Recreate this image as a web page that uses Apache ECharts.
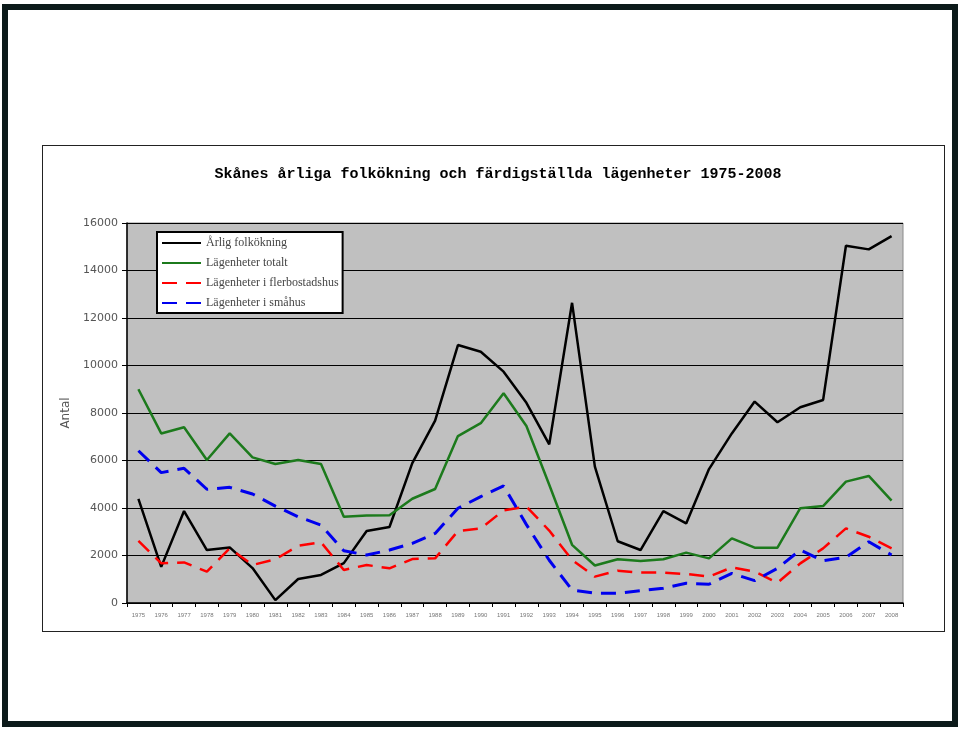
<!DOCTYPE html>
<html>
<head>
<meta charset="utf-8">
<script src="https://cdn.jsdelivr.net/npm/echarts@6/dist/echarts.min.js"></script>
<style>
    html, body { margin: 0; padding: 0; background: #fff; }
    #frame {
        position: absolute; left: 2px; top: 4px; width: 944px; height: 711px;
        border: 6px solid #0c1a1a; background: #fff;
    }
    #box {
        position: absolute; left: 42px; top: 145px; width: 901px; height: 485px;
        border: 1px solid #222; background: #fff;
    }
    #chart { position: absolute; left: 0; top: 0; width: 960px; height: 729px; }
</style>
</head>
<body>
<div id="frame"></div>
<div id="box"></div>
<div id="chart"></div>
<script>
const years = ['1975', '1976', '1977', '1978', '1979', '1980', '1981', '1982', '1983', '1984',
    '1985', '1986', '1987', '1988', '1989', '1990', '1991', '1992', '1993', '1994',
    '1995', '1996', '1997', '1998', '1999', '2000', '2001', '2002', '2003', '2004',
    '2005', '2006', '2007', '2008']

// Årlig folkökning
const folkokning = [4380, 1520, 3870, 2230, 2340, 1470, 120, 1010, 1180, 1680,
    3030, 3200, 5890, 7680, 10860, 10580, 9740, 8430, 6680, 12640,
    5740, 2600, 2230, 3870, 3350, 5640, 7140, 8480, 7610, 8240,
    8550, 15040, 14890, 15450]

// Lägenheter totalt
const totalt = [9000, 7140, 7400, 6020, 7140, 6130, 5850, 6020, 5850, 3630,
    3680, 3690, 4390, 4800, 7030, 7570, 8830, 7450, 4980, 2450,
    1580, 1840, 1770, 1840, 2120, 1880, 2720, 2330, 2330, 3990,
    4080, 5110, 5350, 4310]

// Lägenheter i flerbostadshus
const flerbostadshus = [2620, 1670, 1710, 1320, 2300, 1600, 1840, 2410, 2560, 1390,
    1600, 1460, 1850, 1880, 3030, 3140, 3900, 4060, 3050, 1810,
    1110, 1360, 1280, 1280, 1220, 1110, 1500, 1320, 850, 1670,
    2300, 3140, 2790, 2300]

// Lägenheter i småhus
const smahus = [6410, 5490, 5670, 4790, 4870, 4590, 4080, 3630, 3280, 2200,
    2020, 2230, 2510, 2930, 3990, 4480, 4930, 3300, 1800, 550,
    410, 410, 520, 620, 830, 790, 1250, 940, 1460, 2230,
    1780, 1920, 2580, 2020]

const yTicks = [0, 2000, 4000, 6000, 8000, 10000, 12000, 14000, 16000]

const chart = echarts.init(document.getElementById('chart'))

chart.setOption({
    animation: false,
    title: {
        text: 'Skånes årliga folkökning och färdigställda lägenheter 1975-2008',
        left: 493,
        textAlign: 'center',
        top: 162,
        textStyle: {
            fontFamily: 'Liberation Mono',
            fontWeight: 'bold',
            fontSize: 15,
            color: '#000'
        }
    },
    legend: {
        orient: 'vertical',
        left: 157,
        top: 232,
        backgroundColor: '#fff',
        borderColor: '#000',
        borderWidth: 2,
        padding: [5, 4, 4, 4],
        itemWidth: 39,
        itemHeight: 12,
        itemGap: 8,
        itemStyle: { opacity: 0 },
        textStyle: {
            fontFamily: 'Liberation Serif',
            fontSize: 12,
            color: '#444'
        },
        data: ['Årlig folkökning', 'Lägenheter totalt', 'Lägenheter i flerbostadshus', 'Lägenheter i småhus']
    },
    grid: {
        left: 127,
        top: 223,
        right: 57,
        bottom: 126,
        show: true,
        backgroundColor: '#c0c0c0',
        borderColor: '#8a8a8a',
        borderWidth: 1
    },
    xAxis: {
        type: 'category',
        data: years,
        boundaryGap: true,
        axisLine: { lineStyle: { color: '#000', width: 1.5 } },
        axisTick: { show: true, length: 4, lineStyle: { color: '#000' } },
        axisLabel: {
            fontSize: 6,
            color: '#777',
            margin: 9,
            interval: 0
        }
    },
    yAxis: {
        type: 'value',
        min: yTicks[0],
        max: yTicks[yTicks.length - 1],
        interval: 2000,
        name: 'Antal',
        nameLocation: 'middle',
        nameGap: 52,
        nameTextStyle: {
            fontFamily: 'DejaVu Sans',
            fontSize: 12,
            color: '#555'
        },
        axisLine: { show: true, lineStyle: { color: '#000', width: 1.5 } },
        axisTick: { show: true, length: 5, lineStyle: { color: '#000' } },
        axisLabel: {
            fontFamily: 'DejaVu Sans',
            fontSize: 11,
            color: '#555',
            margin: 9,
            formatter: v => String(v)
        },
        splitLine: { lineStyle: { color: '#000', width: 1.2 } }
    },
    series: [
        {
            name: 'Årlig folkökning',
            type: 'line',
            data: folkokning,
            symbol: 'none',
            lineStyle: { color: '#000', width: 2.5 },
            itemStyle: { color: '#000' }
        },
        {
            name: 'Lägenheter totalt',
            type: 'line',
            data: totalt,
            symbol: 'none',
            lineStyle: { color: '#1c7a1c', width: 2.5 },
            itemStyle: { color: '#1c7a1c' }
        },
        {
            name: 'Lägenheter i flerbostadshus',
            type: 'line',
            data: flerbostadshus,
            symbol: 'none',
            lineStyle: { color: '#ff0000', width: 2.5, type: [15, 9] },
            itemStyle: { color: '#ff0000' }
        },
        {
            name: 'Lägenheter i småhus',
            type: 'line',
            data: smahus,
            symbol: 'none',
            lineStyle: { color: '#0000ee', width: 3, type: [15, 9] },
            itemStyle: { color: '#0000ee' }
        }
    ]
})

window.addEventListener('resize', () => {
    chart.resize()
})
</script>
</body>
</html>
